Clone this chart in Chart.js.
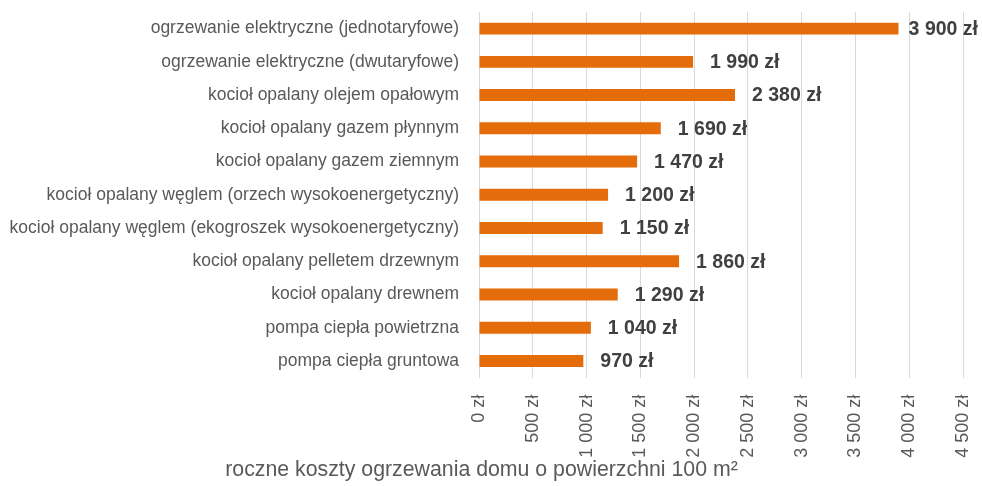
<!DOCTYPE html>
<html lang="pl">
    <head>
        <meta charset="UTF-8" />
        <title>Koszty ogrzewania</title>
        <script src="https://cdn.jsdelivr.net/npm/chart.js@4.4.1/dist/chart.umd.min.js"></script>
        <style>
            html, body { margin: 0; padding: 0; background: #fff; }
            #wrap { width: 982px; height: 486px; }
        </style>
    </head>
    <body>
        <div id="wrap"><canvas id="chart"></canvas></div>
        <script>
            const categories = [
                'ogrzewanie elektryczne (jednotaryfowe)',
                'ogrzewanie elektryczne (dwutaryfowe)',
                'kocioł opalany olejem opałowym',
                'kocioł opalany gazem płynnym',
                'kocioł opalany gazem ziemnym',
                'kocioł opalany węglem (orzech wysokoenergetyczny)',
                'kocioł opalany węglem (ekogroszek wysokoenergetyczny)',
                'kocioł opalany pelletem drzewnym',
                'kocioł opalany drewnem',
                'pompa ciepła powietrzna',
                'pompa ciepła gruntowa'
            ];
            const costs = [3900, 1990, 2380, 1690, 1470, 1200, 1150, 1860, 1290, 1040, 970];
            const axisMin = 0;
            const axisMax = 4500;
            const axisStep = 500;
            const titleText = 'roczne koszty ogrzewania domu o powierzchni 100 m²';

            const FONT = "'Liberation Sans', Arial, sans-serif";

            function zl(v) {
                return String(v).replace(/\B(?=(\d{3})+(?!\d))/g, ' ') + ' zł';
            }

            function noPad(scale) {
                scale.paddingLeft = 0;
                scale.paddingRight = 0;
                scale.paddingTop = 0;
                scale.paddingBottom = 0;
            }

            // etykiety wartości przy końcu słupków
            const valueLabels = {
                id: 'valueLabels',
                afterDatasetsDraw(chart) {
                    const ctx = chart.ctx;
                    const meta = chart.getDatasetMeta(0);
                    ctx.save();
                    ctx.font = 'bold 19.5px ' + FONT;
                    ctx.fillStyle = '#404040';
                    ctx.textAlign = 'left';
                    ctx.textBaseline = 'middle';
                    meta.data.forEach((bar, i) => {
                        const txt = zl(costs[i]);
                        const w = ctx.measureText(txt).width;
                        let x = bar.x + 17;
                        if (x + w > chart.width - 4) x = chart.width - 4 - w;
                        ctx.fillText(txt, x, bar.y + 1);
                    });
                    ctx.restore();
                }
            };

            const ctx = document.getElementById('chart').getContext('2d');
            const chart = new Chart(ctx, {
                type: 'bar',
                data: {
                    labels: categories,
                    datasets: [{
                        data: costs,
                        backgroundColor: '#E46C0A',
                        borderWidth: 0,
                        categoryPercentage: 1,
                        barPercentage: 0.36
                    }]
                },
                options: {
                    indexAxis: 'y',
                    responsive: true,
                    maintainAspectRatio: false,
                    animation: false,
                    layout: { padding: { top: 12, right: 19, left: 0, bottom: 0 } },
                    scales: {
                        x: {
                            min: axisMin,
                            max: axisMax,
                            afterFit(scale) { scale.height = 84; noPad(scale); },
                            ticks: {
                                stepSize: axisStep,
                                minRotation: 90,
                                maxRotation: 90,
                                padding: 17,
                                color: '#595959',
                                font: { family: FONT, size: 18 },
                                callback: v => zl(v)
                            },
                            grid: { color: '#d9d9d9', lineWidth: 1, drawTicks: false },
                            border: { display: false }
                        },
                        y: {
                            afterFit(scale) { scale.width = 479; noPad(scale); },
                            ticks: {
                                padding: 20,
                                color: '#595959',
                                font: { family: FONT, size: 17.5 }
                            },
                            grid: { display: false, drawTicks: false },
                            border: { display: false }
                        }
                    },
                    plugins: {
                        legend: { display: false },
                        tooltip: { enabled: false },
                        title: {
                            display: true,
                            position: 'bottom',
                            text: titleText,
                            color: '#595959',
                            font: { family: FONT, size: 21.3, weight: 'normal' },
                            padding: { top: -4, bottom: 2.8 }
                        }
                    }
                },
                plugins: [valueLabels]
            });
        </script>
    </body>
</html>
